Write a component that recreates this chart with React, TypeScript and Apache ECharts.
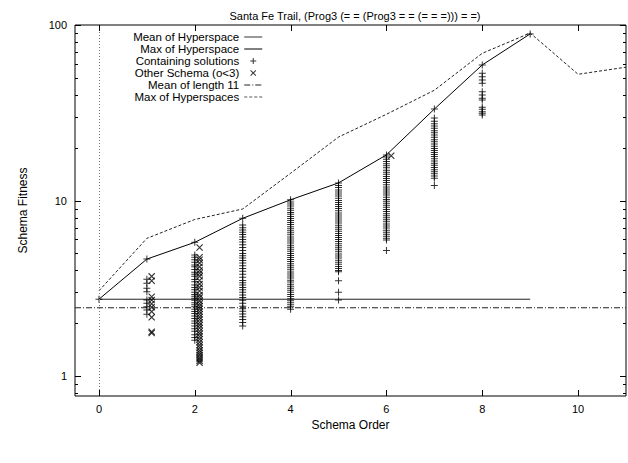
import React, { useEffect, useRef } from 'react';
import * as echarts from 'echarts';

const titleText = 'Santa Fe Trail, (Prog3 (= = (Prog3 = = (= = =))) = =)';
const xAxisTitle = 'Schema Order';
const yAxisTitle = 'Schema Fitness';

const X_MIN = -0.5;
const X_MAX = 11;
const Y_MIN = 0.77;
const Y_MAX = 100;

const xTickValues = [0, 2, 4, 6, 8, 10];
const yMajorTicks = [1, 10, 100];
const yMinorTicks = [0.8, 0.9, 2, 3, 4, 5, 6, 7, 8, 9, 20, 30, 40, 50, 60, 70, 80, 90];

// Mean of Hyperspace (flat)
const meanHyperX = [0, 9];
const meanHyperY = [2.74, 2.74];

// Max of Hyperspace
const maxHyperX = [0, 1, 2, 3, 4, 5, 6, 7, 8, 9];
const maxHyperY = [2.74, 4.64, 5.78, 7.92, 10.1, 12.6, 18.2, 33.2, 59.2, 89];

// Mean of length 11
const meanLen11X = [-0.5, 11];
const meanLen11Y = [2.45, 2.45];

// Max of Hyperspaces
const maxHypersX = [0, 1, 2, 3, 4, 5, 6, 7, 8, 9, 10, 11];
const maxHypersY = [3.06, 6.09, 7.8, 8.95, 14.3, 23, 31, 42.5, 69, 90, 52.4, 57.5];

// Containing solutions, by schema order
const sol0 = [2.74];
const sol1 = [4.64, 3.56, 3.38, 3.16, 3.02, 2.71, 2.6, 2.48, 2.38, 2.25];
const sol2 = [5.78, 4.9, 4.75, 4.6, 4.45, 4.3, 4.2, 4.05, 3.9, 3.8, 3.7, 3.55, 3.45, 3.3, 3.2, 3.1, 3.0, 2.92,
  2.85, 2.78, 2.7, 2.62, 2.55, 2.48, 2.4, 2.33, 2.27, 2.2, 2.13, 2.06, 2.0, 1.93, 1.86, 1.8, 1.72, 1.66, 1.6];
const sol3 = [7.92, 7.25, 7.0, 6.8, 6.6, 6.4, 6.2, 6.0, 5.8, 5.6, 5.4, 5.2, 5.0, 4.85, 4.7, 4.55, 4.4, 4.25,
  4.1, 3.95, 3.8, 3.65, 3.5, 3.4, 3.3, 3.2, 3.1, 3.0, 2.9, 2.8, 2.7, 2.6, 2.5, 2.42, 2.34, 2.26, 2.18, 2.1,
  2.02, 1.93];
const sol4 = [10.1, 9.8, 9.55, 9.3, 9.05, 8.8, 8.55, 8.35, 8.1, 7.9, 7.7, 7.5, 7.3, 7.1, 6.9, 6.72, 6.55,
  6.38, 6.2, 6.04, 5.88, 5.72, 5.57, 5.42, 5.28, 5.14, 5.0, 4.87, 4.74, 4.61, 4.49, 4.37, 4.25, 4.14, 4.03,
  3.92, 3.82, 3.72, 3.62, 3.52, 3.43, 3.34, 3.25, 3.16, 3.08, 3.0, 2.92, 2.84, 2.76, 2.69, 2.62, 2.55, 2.48,
  2.4];
const sol5 = [12.6, 12.2, 11.85, 11.5, 11.2, 10.9, 10.6, 10.3, 10.0, 9.75, 9.5, 9.25, 9.0, 8.75, 8.5, 8.28,
  8.06, 7.85, 7.64, 7.44, 7.24, 7.05, 6.86, 6.68, 6.5, 6.33, 6.16, 6.0, 5.84, 5.68, 5.53, 5.38, 5.24, 5.1,
  4.96, 4.83, 4.7, 4.57, 4.45, 4.33, 4.21, 4.1, 3.99, 3.93, 3.49, 3.0, 2.71];
const sol6 = [18.2, 17.7, 17.2, 16.7, 16.2, 15.8, 15.35, 14.9, 14.5, 14.1, 13.7, 13.35, 13.0, 12.65, 12.3,
  11.95, 11.65, 11.35, 11.05, 10.75, 10.45, 10.15, 9.9, 9.65, 9.4, 9.15, 8.9, 8.65, 8.42, 8.2, 7.98, 7.77,
  7.56, 7.36, 7.16, 6.97, 6.78, 6.6, 6.42, 6.25, 6.1, 5.96, 5.2];
const sol7 = [33.2, 29.5, 28.3, 27.4, 26.6, 25.8, 25.0, 24.3, 23.6, 22.9, 22.2, 21.6, 21.0, 20.4, 19.8, 19.3,
  18.8, 18.3, 17.8, 17.3, 16.8, 16.3, 15.9, 15.4, 15.0, 14.6, 14.2, 13.8, 13.4, 12.2];
const sol8 = [59.2, 53.1, 50.7, 48.6, 46.5, 41.7, 39.9, 38.2, 37.4, 34.0, 33.1, 32.1, 31.4, 30.7];
const sol9 = [89];
const solutionsByOrder = [sol0, sol1, sol2, sol3, sol4, sol5, sol6, sol7, sol8, sol9];

// Other Schema (o<3), drawn slightly right of their order
const otherX = [1.1, 2.1, 6.1];
const other1 = [3.7, 3.49, 2.83, 2.71, 2.58, 2.47, 2.33, 2.16, 1.79, 1.76];
const other2 = [5.4, 4.75, 4.6, 4.4, 4.2, 4.0, 3.85, 3.7, 3.5, 3.35, 3.2, 3.05, 2.9, 2.8, 2.68, 2.58, 2.5,
  2.42, 2.33, 2.25, 2.17, 2.1, 2.02, 1.95, 1.88, 1.8, 1.74, 1.68, 1.62, 1.56, 1.5, 1.45, 1.4, 1.36, 1.32,
  1.28, 1.25, 1.22, 1.19];
const other6 = [18.0];
const otherByPosition = [other1, other2, other6];

const FONT = 'Liberation Sans, Arial, Helvetica, sans-serif';

const plusSymbol = 'path://M0,3h7v1h-7z M3,0h1v7h-1z';
const crossSymbol = 'path://M0,0.8L0.8,0L7,6.2L6.2,7Z M6.2,0L7,0.8L0.8,7L0,6.2Z';
const plusLegend = 'path://M0,0h0.01v0.01h-0.01z M12,12h0.01v0.01h-0.01z M3,5.5h6v1h-6z M5.5,3h1v6h-1z';
const crossLegend = 'path://M0,0h0.01v0.01h-0.01z M12,12h0.01v0.01h-0.01z M3,3.7L3.7,3L9,8.3L8.3,9Z M8.3,3L9,3.7L3.7,9L3,8.3Z';

const hiddenSymbolStyle = { color: 'rgba(0,0,0,0)', borderColor: 'rgba(0,0,0,0)', borderWidth: 0 };

const zip = (xs: number[], ys: number[]) => xs.map((x, i) => [x, ys[i]]);

export default function App() {
  const ref = useRef<HTMLDivElement>(null);
  useEffect(() => {
    if (!ref.current) return;
    const chart = echarts.init(ref.current, undefined, { renderer: 'svg' });

    const solutionData: number[][] = [];
    solutionsByOrder.forEach((vals, order) => vals.forEach((v) => solutionData.push([order, v])));
    const otherData: number[][] = [];
    otherByPosition.forEach((vals, i) => vals.forEach((v) => otherData.push([otherX[i], v])));

    const tickData: number[][] = [];
    yMajorTicks.forEach((v) => tickData.push([0, v, 6]));
    yMinorTicks.forEach((v) => tickData.push([0, v, 3]));
    xTickValues.forEach((v) => tickData.push([1, v, 6]));

    const option: any = {
      animation: false,
      backgroundColor: '#fff',
      textStyle: { fontFamily: FONT },
      title: {
        text: titleText,
        left: 350,
        textAlign: 'center',
        top: 5,
        textStyle: { fontSize: 11, fontWeight: 'normal', color: '#000', fontFamily: FONT },
      },
      legend: {
        orient: 'vertical',
        align: 'right',
        right: 365,
        top: 31,
        padding: 0,
        itemGap: 0,
        itemWidth: 18,
        itemHeight: 12,
        selectedMode: false,
        textStyle: { fontSize: 11.5, lineHeight: 12, color: '#000', fontFamily: FONT },
        data: [
          { name: 'Mean of Hyperspace', itemStyle: hiddenSymbolStyle, lineStyle: { color: '#777', width: 1.5 } },
          { name: 'Max of Hyperspace', itemStyle: hiddenSymbolStyle, lineStyle: { width: 1 } },
          { name: 'Containing solutions', icon: plusLegend },
          { name: 'Other Schema (o<3)', icon: crossLegend },
          { name: 'Mean of length 11', itemStyle: hiddenSymbolStyle, lineStyle: { width: 1 } },
          { name: 'Max of Hyperspaces', itemStyle: hiddenSymbolStyle, lineStyle: { width: 1, color: '#555' } },
        ],
      },
      grid: {
        left: 75,
        right: 2,
        top: 25,
        bottom: 463 - 396,
        show: true,
        borderColor: '#000',
        borderWidth: 1,
        containLabel: false,
        outerBoundsMode: 'none',
      },
      xAxis: {
        type: 'value',
        min: X_MIN,
        max: X_MAX,
        interval: 0.5,
        name: xAxisTitle,
        nameLocation: 'middle',
        nameGap: 19,
        nameTextStyle: { fontSize: 12, color: '#000', fontFamily: FONT },
        axisLine: { show: false },
        axisTick: { show: false },
        splitLine: { show: false },
        axisLabel: {
          fontSize: 11,
          color: '#000',
          margin: 7,
          showMinLabel: true,
          showMaxLabel: true,
          formatter: (v: number) => (xTickValues.some((t) => Math.abs(t - v) < 1e-9) ? String(Math.round(v)) : ''),
        },
      },
      yAxis: {
        type: 'log',
        logBase: 10,
        min: Y_MIN,
        max: Y_MAX,
        name: yAxisTitle,
        nameLocation: 'middle',
        nameRotate: 90,
        nameGap: 46,
        nameTextStyle: { fontSize: 12, color: '#000', fontFamily: FONT },
        axisLine: { show: false },
        axisTick: { show: false },
        splitLine: { show: false },
        minorTick: { show: false },
        axisLabel: {
          fontSize: 11,
          color: '#000',
          margin: 8,
          formatter: (v: number) => {
            const hit = yMajorTicks.find((t) => Math.abs(t - v) / t < 1e-6);
            return hit !== undefined ? String(hit) : '';
          },
        },
      },
      series: [
        {
          name: 'Mean of Hyperspace',
          type: 'line',
          data: zip(meanHyperX, meanHyperY),
          symbol: 'none',
          color: '#222',
          lineStyle: { color: '#222', width: 1 },
          z: 3,
          markLine: {
            silent: true,
            symbol: 'none',
            label: { show: false },
            lineStyle: { type: [1, 2], color: '#777', width: 1 },
            data: [{ xAxis: 0 }],
          },
        },
        {
          name: 'Max of Hyperspace',
          type: 'line',
          data: zip(maxHyperX, maxHyperY),
          symbol: 'none',
          color: '#000',
          lineStyle: { color: '#000', width: 1 },
          z: 3,
        },
        {
          name: 'Containing solutions',
          type: 'scatter',
          data: solutionData,
          symbol: plusSymbol,
          symbolSize: 7,
          color: '#000',
          itemStyle: { color: '#000' },
          z: 4,
        },
        {
          name: 'Other Schema (o<3)',
          type: 'scatter',
          data: otherData,
          symbol: crossSymbol,
          symbolSize: 7,
          color: '#000',
          itemStyle: { color: '#000' },
          z: 4,
        },
        {
          name: 'Mean of length 11',
          type: 'line',
          data: zip(meanLen11X, meanLen11Y),
          symbol: 'none',
          color: '#222',
          lineStyle: { color: '#222', width: 1, type: [6, 2, 1, 2] },
          z: 3,
        },
        {
          name: 'Max of Hyperspaces',
          type: 'line',
          data: zip(maxHypersX, maxHypersY),
          symbol: 'none',
          color: '#222',
          lineStyle: { color: '#222', width: 1, type: [3, 2] },
          z: 3,
        },
        {
          name: 'ticks',
          type: 'custom',
          silent: true,
          data: tickData,
          encode: { x: -1, y: -1 },
          renderItem: (params: any, api: any) => {
            const kind = api.value(0);
            const v = api.value(1);
            const len = api.value(2);
            if (kind === 0) {
              const pl = api.coord([X_MIN, v]);
              const pr = api.coord([X_MAX, v]);
              const y = Math.round(pl[1]) + 0.5;
              return {
                type: 'group',
                children: [
                  { type: 'line', shape: { x1: pl[0], y1: y, x2: pl[0] + len, y2: y }, style: { stroke: '#000', lineWidth: 1 } },
                  { type: 'line', shape: { x1: pr[0] - len, y1: y, x2: pr[0], y2: y }, style: { stroke: '#000', lineWidth: 1 } },
                ],
              };
            }
            const pb = api.coord([v, Y_MIN]);
            const pt = api.coord([v, Y_MAX]);
            const x = Math.round(pb[0]) + 0.5;
            return {
              type: 'group',
              children: [
                { type: 'line', shape: { x1: x, y1: pb[1], x2: x, y2: pb[1] - len }, style: { stroke: '#000', lineWidth: 1 } },
                { type: 'line', shape: { x1: x, y1: pt[1], x2: x, y2: pt[1] + len }, style: { stroke: '#000', lineWidth: 1 } },
              ],
            };
          },
          z: 5,
        },
      ],
    };
    chart.setOption(option);
    return () => chart.dispose();
  }, []);
  return <div ref={ref} style={{ position: 'absolute', left: 0, top: 0, width: 628, height: 463 }} />;
}
